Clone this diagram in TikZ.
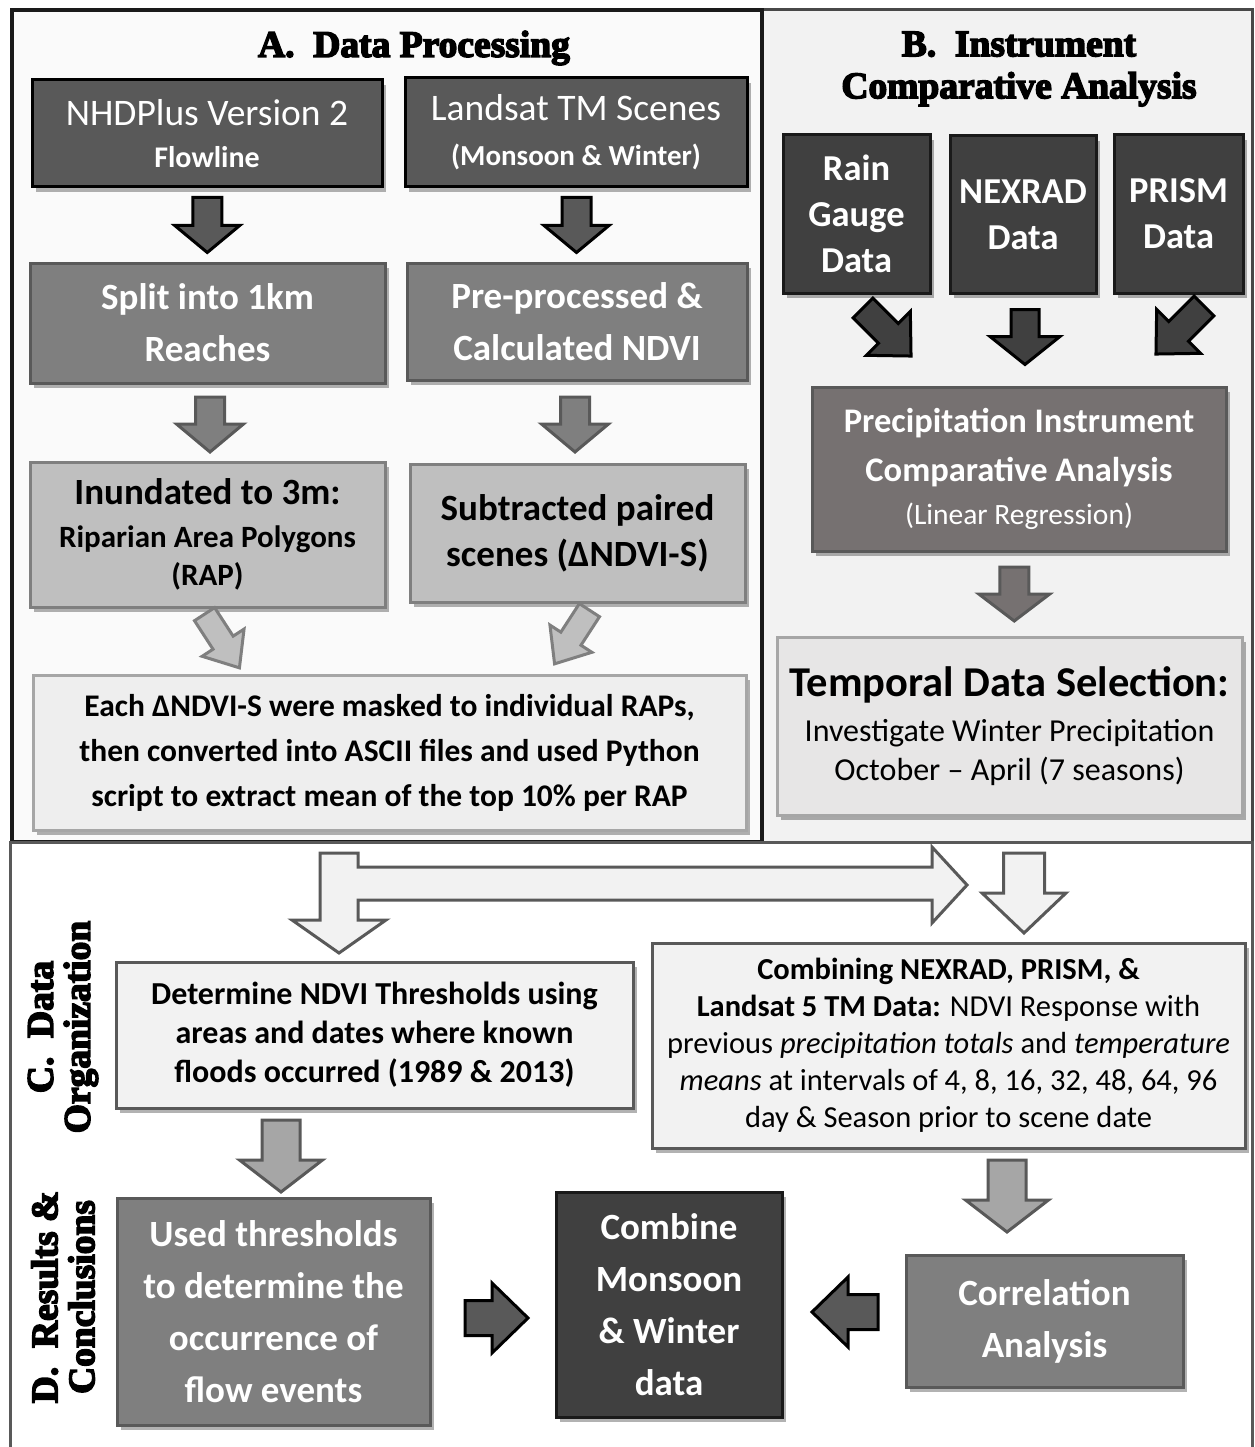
\documentclass[tikz,border=0pt]{standalone}
\usepackage{fontspec}
\setmainfont{Carlito}
\newfontfamily\titlefont{Liberation Serif}[BoldFeatures={FakeBold=4}]
\usetikzlibrary{shadows,calc}
\definecolor{g1a}{HTML}{1A1A1A}
\definecolor{g40}{HTML}{404040}
\definecolor{g59}{HTML}{595959}
\definecolor{g76}{HTML}{767171}
\definecolor{g7f}{HTML}{7F7F7F}
\definecolor{ga6}{HTML}{A6A6A6}
\definecolor{gbf}{HTML}{BFBFBF}
\definecolor{ge7}{HTML}{E7E6E6}
\definecolor{gee}{HTML}{EEEEEE}
\definecolor{gf2}{HTML}{F2F2F2}
\definecolor{gfa}{HTML}{FAFAFA}
\newcommand\fs[2]{\fontsize{#1}{#2}\selectfont}
% style, centre, angle, length, shaft width, head width, head length
\newcommand\blockarrow[7]{%
  \begin{scope}[shift={(#2)}, rotate=#3]
    \draw[#1] (-#4/2,-#5/2) -- (#4/2-#7,-#5/2) -- (#4/2-#7,-#6/2) -- (#4/2,0)
      -- (#4/2-#7,#6/2) -- (#4/2-#7,#5/2) -- (-#4/2,#5/2) -- cycle;
  \end{scope}}
\tikzset{
  box/.style={draw, line width=3pt, align=center, inner sep=0pt, line join=miter,
    drop shadow={shadow xshift=4pt, shadow yshift=-5pt, opacity=0.3, fill=black}},
  boxdark/.style={box, fill=g59, draw=black, text=white},
  boxmid/.style={box, fill=g7f, draw=g59, text=white},
  boxlight/.style={box, fill=gbf, draw=g7f, text=black},
  boxpale/.style={box, fill=gee, draw=ga6, text=black},
  boxblack/.style={box, fill=g40, draw=g1a, text=white},
  boxprecip/.style={box, fill=g76, draw=g59, text=white},
  boxtemp/.style={box, fill=ge7, draw=ga6, text=black},
  boxwhite/.style={box, fill=gf2, draw=g59, text=black},
  arrdark/.style={fill=g59, draw=black, line width=3pt, line join=miter},
  arrmid/.style={fill=g7f, draw=g59, line width=3pt, line join=miter},
  arrlight/.style={fill=gbf, draw=g7f, line width=3pt, line join=miter},
  arrblack/.style={fill=g40, draw=black, line width=3pt, line join=miter},
  arrprecip/.style={fill=g76, draw=g59, line width=3pt, line join=miter},
  arrgray/.style={fill=ga6, draw=g59, line width=3pt, line join=miter},
  arrpale/.style={fill=gf2, draw=g59, line width=3pt, line join=miter},
  titletext/.style={font=\titlefont\bfseries\fs{37.5}{42}, align=center, inner sep=0pt},
}
\begin{document}
\begin{tikzpicture}[x=1pt, y=-1pt]
\useasboundingbox (0,0) rectangle (1254,1447);
\fill[white] (0,0) rectangle (1254,1447);
% panels
\draw[fill=gf2, draw=g1a!80, line width=3pt] (762,10) rectangle (1252,842);
\draw[fill=gfa, draw=g1a, line width=3.5pt] (12,10) rectangle (762,842);
\draw[draw=g59, line width=3pt] (10,1447) -- (10,842) -- (1252,842) -- (1252,1447);

% ---------- A ----------
\node[titletext] (tA) at (414,48) {A.~~Data Processing};
\node[boxdark, font=\fs{37.5}{42}, minimum width=350, minimum height=107] (nhd) at (207,133.5)
  {\fs{37.5}{42}NHDPlus Version 2\\\bfseries\fs{30}{42}Flowline};
\node[boxdark, font=\fs{37.5}{45}, minimum width=342, minimum height=109] (land) at (576,132.5)
  {\fs{37.5}{45}Landsat TM Scenes\\\bfseries\fs{29}{45}(Monsoon \& Winter)};
\node[boxmid, font=\bfseries\fs{37}{52}, minimum width=355, minimum height=120] (split) at (207.5,323)
  {Split into 1km\\Reaches};
\node[boxmid, font=\bfseries\fs{37}{52}, minimum width=340, minimum height=117] (pre) at (577,321.5)
  {Pre-processed \&\\Calculated NDVI};
\node[boxlight, font=\bfseries\fs{37}{43}, minimum width=355, minimum height=145] (inun) at (207.5,534.5)
  {Inundated to 3m:\\\fs{31}{43}Riparian Area Polygons\\[-5pt]\fs{31}{43}(RAP)};
\node[boxlight, font=\bfseries\fs{37}{46}, minimum width=335, minimum height=138] (subt) at (577.5,533)
  {Subtracted paired\\scenes (ΔNDVI-S)};
\node[boxpale, font=\bfseries\fs{31.5}{45}, minimum width=713, minimum height=155] (each) at (389.5,752.5)
  {Each ΔNDVI-S were masked to individual RAPs,\\then converted into ASCII files and used Python\\script to extract mean of the top 10\% per RAP};

\coordinate (a1) at ($(nhd.south)!0.5!(split.north)$);
\coordinate (a2) at ($(land.south)!0.5!(pre.north)$);
\coordinate (a3) at (210,424.5);
\coordinate (a4) at (575,424.5);
\coordinate (a5) at (222,641);
\coordinate (a6) at (572,637);
\blockarrow{arrdark}{a1}{-90}{55}{29}{65}{27}
\blockarrow{arrdark}{a2}{-90}{55}{29}{65}{27}
\blockarrow{arrmid}{a3}{-90}{55}{29}{67}{28}
\blockarrow{arrmid}{a4}{-90}{55}{29}{67}{28}
\blockarrow{arrlight}{a5}{-57}{64}{24}{50}{30}
\blockarrow{arrlight}{a6}{-123}{64}{24}{50}{30}

% ---------- B ----------
\node[titletext] (tB) at (1019,69) {B.~~Instrument\\Comparative Analysis};
\node[boxblack, font=\bfseries\fs{36.5}{46}, minimum width=147, minimum height=158] (rain) at (856.5,214)
  {Rain\\Gauge\\Data};
\node[boxblack, font=\bfseries\fs{36.5}{46}, minimum width=146, minimum height=157] (nex) at (1023,214.5)
  {NEXRAD\\Data};
\node[boxblack, font=\bfseries\fs{36.5}{46}, minimum width=129, minimum height=158] (prism) at (1178.5,214)
  {PRISM\\Data};
\node[boxprecip, font=\bfseries\fs{34.5}{49}, minimum width=414, minimum height=164] (precip) at (1019,469)
  {Precipitation Instrument\\Comparative Analysis\\[-6pt]\mdseries\fs{29.5}{49}(Linear Regression)};
\node[boxtemp, font=\fs{32}{45}, minimum width=465, minimum height=178] (temp) at (1009.5,726)
  {\bfseries\fs{42.5}{45}Temporal Data Selection:\\Investigate Winter Precipitation\\[-6pt]October – April (7 seasons)};

\coordinate (b1) at (887,332);
\coordinate (b2) at (1025,337);
\coordinate (b3) at (1180,330);
\coordinate (b4) at ($(precip.south)!0.5!(temp.north)$);
\blockarrow{arrblack}{b1}{-45}{68}{28}{62}{32}
\blockarrow{arrblack}{b2}{-90}{55}{28}{70}{28}
\blockarrow{arrblack}{b3}{-135}{68}{28}{62}{32}
\blockarrow{arrprecip}{b4}{-90}{54}{29}{71}{27}

% ---------- C / D ----------
\node[titletext, rotate=90, font=\titlefont\bfseries\fs{37.5}{37}] (tC) at (63,1027) {C.~~Data\\Organization};
\node[titletext, rotate=90, font=\titlefont\bfseries\fs{37.5}{37}] (tD) at (63,1297) {D.~~Results \&\\Conclusions};

\draw[arrpale] (320,853) -- (358,853) -- (358,867) -- (932,867) -- (932,847) -- (967,885)
  -- (932,923) -- (932,900) -- (358,900) -- (358,920) -- (386,920) -- (339,953)
  -- (292,920) -- (320,920) -- cycle;
\coordinate (c1) at (1024,893);
\blockarrow{arrpale}{c1}{-90}{80}{41}{84}{40}

\node[boxwhite, font=\bfseries\fs{32}{39}, minimum width=517, minimum height=146] (det) at (374.5,1035)
  {Determine NDVI Thresholds using\\areas and dates where known\\floods occurred (1989 \& 2013)};
\node[boxwhite, font=\fs{30.5}{37}, minimum width=593, minimum height=205] (comb) at (948.5,1045.5)
  {\bfseries\fs{30.5}{37}Combining NEXRAD, PRISM, \&\\
   \textbf{Landsat 5 TM Data:} NDVI Response with\\
   previous \textit{precipitation totals} and \textit{temperature}\\
   \textit{means} at intervals of 4, 8, 16, 32, 48, 64, 96\\
   day \& Season prior to scene date};
\node[boxmid, font=\bfseries\fs{37}{52}, minimum width=313, minimum height=227] (used) at (273.5,1311.5)
  {Used thresholds\\to determine the\\occurrence of\\flow events};
\node[boxblack, font=\bfseries\fs{37}{52}, minimum width=226, minimum height=225] (cmb) at (669,1304.5)
  {Combine\\Monsoon\\\& Winter\\data};
\node[boxmid, font=\bfseries\fs{37}{52}, minimum width=277, minimum height=132] (corr) at (1044.5,1321)
  {Correlation\\Analysis};

\coordinate (d1) at (281,1156);
\coordinate (d2) at (1007,1196);
\coordinate (d3) at (496.5,1318);
\coordinate (d4) at (845,1312);
\blockarrow{arrgray}{d1}{-90}{72}{38}{83}{32}
\blockarrow{arrgray}{d2}{-90}{72}{38}{83}{32}
\blockarrow{arrdark}{d3}{0}{63}{35}{70}{36}
\blockarrow{arrdark}{d4}{180}{66}{35}{70}{36}
\end{tikzpicture}
\end{document}
